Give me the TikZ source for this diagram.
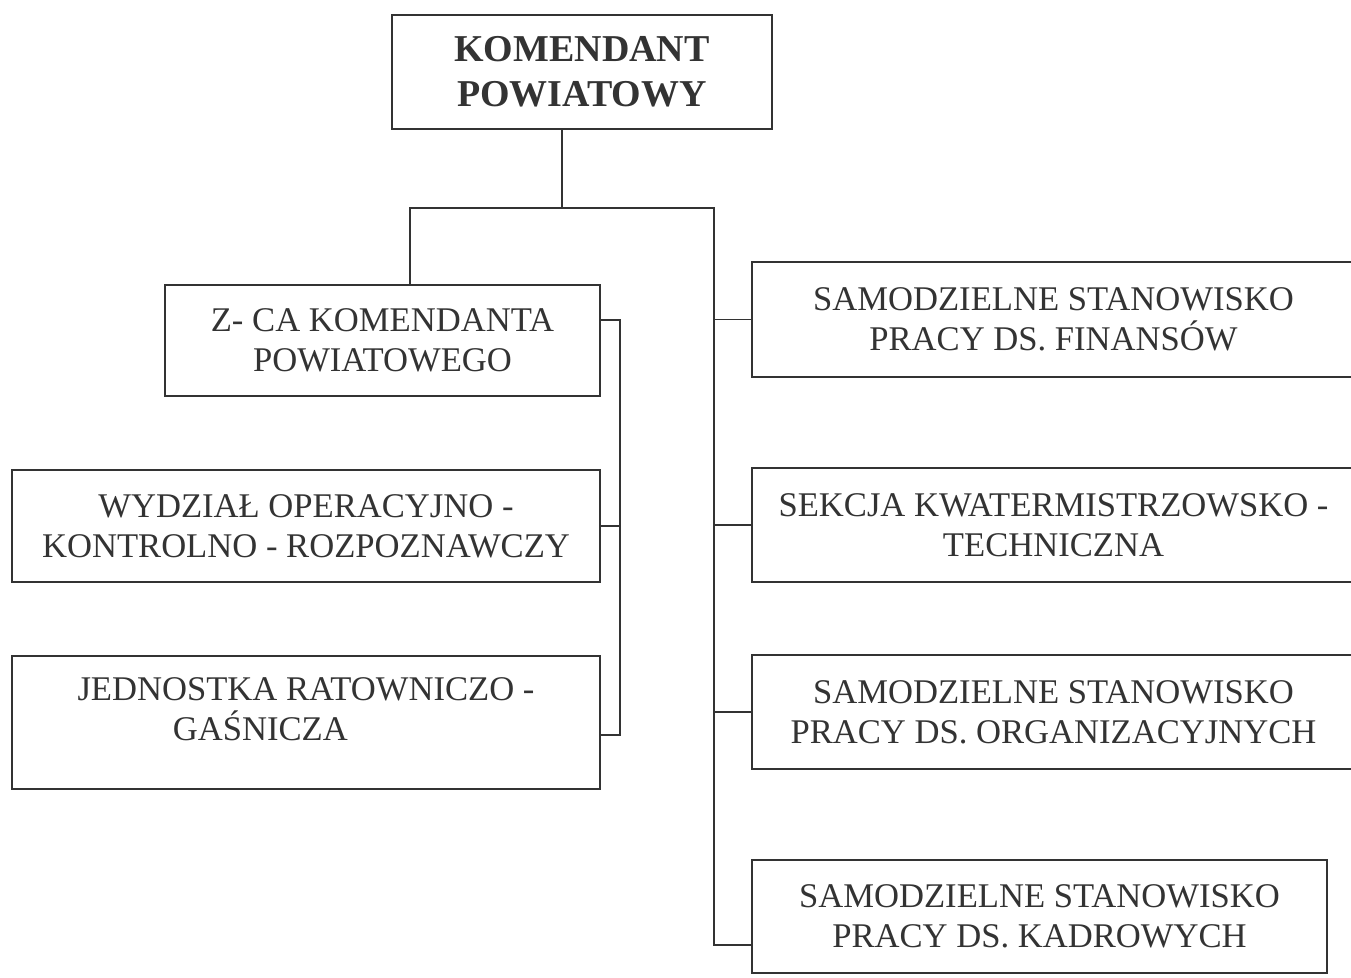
\documentclass[tikz,border=0pt]{standalone}
\usepackage{fontspec}
\setmainfont{Liberation Serif}
\tikzset{
  unit/.style={draw, line width=1pt, inner sep=0pt, align=center,
    font=\fontsize{19.7}{22.8}\selectfont},
  head/.style={unit, font=\fontsize{21.6}{25.6}\selectfont\bfseries},
}
\begin{document}
\begin{tikzpicture}[x=0.02cm, y=-0.02cm, line width=1pt, color=black!80]
      \useasboundingbox (0,0) rectangle (1351,977);
      \node[head, minimum width=7.6cm, minimum height=2.28cm] (kp) at (582,72) {KOMENDANT\\POWIATOWY};
      \node[unit, minimum width=8.7cm, minimum height=2.22cm] (zca) at (382.5,340.5) {Z- CA KOMENDANTA\\POWIATOWEGO};
      \node[unit, minimum width=11.76cm, minimum height=2.24cm] (wydz) at (306,526) {WYDZIAŁ OPERACYJNO -\\KONTROLNO - ROZPOZNAWCZY};
      \node[unit, minimum width=11.76cm, minimum height=2.66cm] (jedn) at (306,722.5) {JEDNOSTKA RATOWNICZO -\\GAŚNICZA\hspace*{52pt}\mbox{}\\[-8pt]\mbox{}};
      \node[unit, minimum width=12.06cm, minimum height=2.3cm] (fin) at (1053.5,319.5) {SAMODZIELNE STANOWISKO\\PRACY DS. FINANSÓW};
      \node[unit, minimum width=12.06cm, minimum height=2.28cm] (kwat) at (1053.5,525) {SEKCJA KWATERMISTRZOWSKO -\\TECHNICZNA};
      \node[unit, minimum width=12.06cm, minimum height=2.28cm] (org) at (1053.5,712) {SAMODZIELNE STANOWISKO\\PRACY DS. ORGANIZACYJNYCH};
      \node[unit, minimum width=11.5cm, minimum height=2.26cm] (kadr) at (1039.5,916.5) {SAMODZIELNE STANOWISKO\\PRACY DS. KADROWYCH};
      \coordinate (jk) at (562,208);
      \coordinate (jl) at (410,208);
      \coordinate (jr) at (714,208);
      \coordinate (kend) at (714,945);
      \coordinate (ltop) at (620,320);
      \coordinate (lend) at (620,735);
      \draw (kp.south -| jk) -- (jk);
      \draw (jl |- zca.north) -- (jl) -- (jr) -- (kend) -- (kend -| kadr.west);
      \draw (jr |- fin.west) -- (fin.west);
      \draw (jr |- kwat.west) -- (kwat.west);
      \draw (jr |- org.west) -- (org.west);
      \draw (ltop -| zca.east) -- (ltop) -- (lend) -- (lend -| jedn.east);
      \draw (wydz.east) -- (wydz.east -| ltop);
    \end{tikzpicture}
\end{document}
